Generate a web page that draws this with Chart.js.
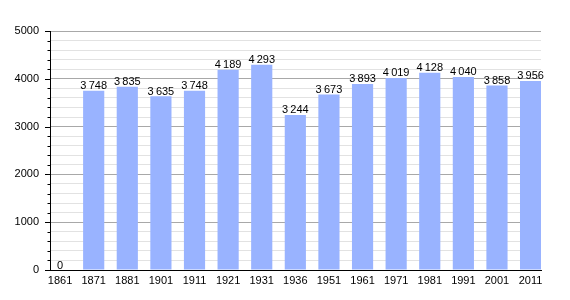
<!DOCTYPE html>
<html lang="fr">
<head>
    <meta charset="UTF-8">
    <title>Population</title>
    <script src="https://cdn.jsdelivr.net/npm/chart.js"></script>
    <style>
        html, body { margin: 0; padding: 0; background: #fff; }
        canvas { display: block; }
    </style>
</head>
<body>
    <canvas id="popChart" width="570" height="300"></canvas>

    <script>
        // années du recensement et population
        const years = ["1861", "1871", "1881", "1901", "1911", "1921", "1931", "1936",
                       "1951", "1961", "1971", "1981", "1991", "2001", "2011"];
        const population = [0, 3748, 3835, 3635, 3748, 4189, 4293, 3244,
                            3673, 3893, 4019, 4128, 4040, 3858, 3956];
        const yTicks = [0, 1000, 2000, 3000, 4000, 5000];

        const FONT = "'Liberation Sans', Arial, sans-serif";

        function fmt(n) {
            return String(n).replace(/\B(?=(\d{3})+(?!\d))/g, "\u2009");
        }

        // petits traits sur l'axe vertical + valeurs au-dessus des barres
        const extras = {
            id: "extras",
            afterDraw(chart) {
                const ctx = chart.ctx;
                const y = chart.scales.y;
                const left = chart.chartArea.left;
                ctx.save();
                ctx.strokeStyle = "#000";
                ctx.lineWidth = 1;
                for (let v = 0; v <= 5000; v += 200) {
                    const py = Math.round(y.getPixelForValue(v)) + 0.5;
                    const len = v % 1000 === 0 ? 5 : 2.5;
                    ctx.beginPath();
                    ctx.moveTo(left - len, py);
                    ctx.lineTo(left, py);
                    ctx.stroke();
                }

                ctx.fillStyle = "#000";
                ctx.font = "11px " + FONT;
                ctx.textAlign = "center";
                ctx.textBaseline = "bottom";
                chart.getDatasetMeta(0).data.forEach((bar, i) => {
                    ctx.fillText(fmt(population[i]), bar.x, bar.y + 1);
                });
                ctx.restore();
            }
        };

        const ctx = document.getElementById("popChart").getContext("2d");
        const popChart = new Chart(ctx, {
            type: "bar",
            data: {
                datasets: [{
                    data: population.map((v, i) => ({ x: i, y: v })),
                    backgroundColor: "#99b3ff",
                    borderWidth: 0,
                    barPercentage: 0.63,
                    categoryPercentage: 1
                }]
            },
            options: {
                responsive: false,
                animation: false,
                layout: { padding: { left: 0, top: 31, right: 29, bottom: 0 } },
                plugins: { legend: { display: false }, tooltip: { enabled: false } },
                scales: {
                    x: {
                        type: "linear",
                        offset: false,
                        min: -0.3,
                        max: 14.31,
                        afterBuildTicks: s => { s.ticks = years.map((_, i) => ({ value: i })); },
                        afterFit: s => { s.height = 30; },
                        grid: { display: false, drawTicks: false, offset: false },
                        border: { color: "#000", width: 1 },
                        ticks: {
                            autoSkip: false,
                            maxRotation: 0,
                            padding: 4,
                            color: "#000",
                            font: { family: FONT, size: 11 },
                            callback: v => years[v]
                        }
                    },
                    y: {
                        min: 0,
                        max: 5000,
                        afterBuildTicks: s => {
                            const t = [];
                            for (let v = 0; v <= 5000; v += 200) t.push({ value: v });
                            s.ticks = t;
                        },
                        afterFit: s => { s.width = 50; },
                        grid: {
                            drawTicks: false,
                            color: c => c.tick && c.tick.value % 1000 === 0 ? "#a8a8a8" : "#e2e2e2"
                        },
                        border: { color: "#000", width: 1 },
                        ticks: {
                            autoSkip: false,
                            padding: 11,
                            color: "#000",
                            font: { family: FONT, size: 11 },
                            callback: v => yTicks.includes(v) ? String(v) : ""
                        }
                    }
                }
            },
            plugins: [extras]
        });
    </script>
</body>
</html>
